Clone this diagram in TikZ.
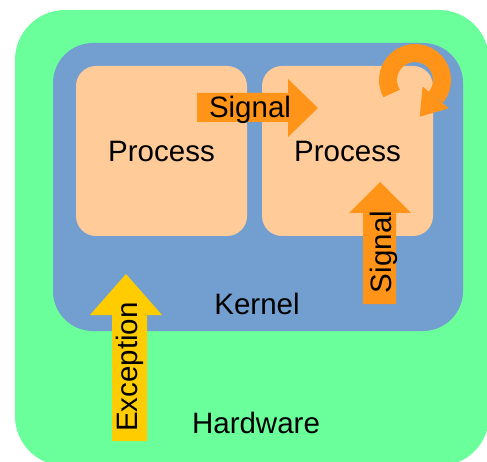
\documentclass[tikz,border=0pt]{standalone}
\usepackage{fontspec}
\setmainfont{Liberation Sans}
\definecolor{hwgreen}{HTML}{6AFF9A}
\definecolor{kernblue}{HTML}{729FCF}
\definecolor{procpeach}{HTML}{FFCC99}
\definecolor{sigorange}{HTML}{FF9418}
\definecolor{excyellow}{HTML}{FFCC00}

\begin{document}
\begin{tikzpicture}[x=1pt,y=-1pt,
    boxtext/.style={font=\fontsize{29.5}{34}\selectfont, inner sep=0pt},
    procbox/.style={boxtext, fill=procpeach, rounded corners=20pt,
                    minimum width=171pt, minimum height=170pt}]
     \useasboundingbox (0,0) rectangle (487,462);
     \clip (0,0) rectangle (487,462);
      %%%%%%%%%%%%%%%%%%%%%%%%%%%%%%%%%%%%%%%%%%
      %%% Layers: hardware, kernel, processes
      %%%%%%%%%%%%%%%%%%%%%%%%%%%%%%%%%%%%%%%%%%
     \fill[hwgreen, rounded corners=50pt] (15,10) rectangle (489,466);
     \fill[kernblue, rounded corners=40pt] (53,43) rectangle (463,331);
     \node[procbox] (proc1) at (161.5,151) {Process};
     \node[procbox] (proc2) at (347.5,151) {Process};

     \node[boxtext, anchor=base] (kernel) at (257,314) {Kernel};
     \node[boxtext, anchor=base] (hardware) at (256,433) {Hardware};

     % Signal from one process to the other
     \fill[sigorange] (197,93) -- (288,93) -- (288,79) -- (318,108)
          -- (288,137) -- (288,122) -- (197,122) -- cycle;
     \node[boxtext, anchor=base] (sig1) at (250,118) {Signal};

     % Signal from the kernel up into the process
     \fill[sigorange] (363,304) -- (363,213) -- (349,213) -- (380,182)
          -- (411,213) -- (396,213) -- (396,304) -- cycle;
     \node[boxtext, anchor=base, rotate=90] (sig2) at (391,252) {Signal};

     % Exception from the hardware into the kernel
     \fill[excyellow] (112,441) -- (112,315) -- (90,315) -- (126,274)
          -- (162,315) -- (147,315) -- (147,441) -- cycle;
     \node[boxtext, anchor=base, rotate=90] (exc) at (137,367) {Exception};

     % Signal the process sends to itself
     \draw[sigorange, line width=18pt] (415,80) ++(150:27)
          arc[start angle=150, end angle=400, radius=27];
     \fill[sigorange] (422.6,86.5) -- (448.8,108.3) -- (419.7,116.7) -- cycle;
\end{tikzpicture}
\end{document}
